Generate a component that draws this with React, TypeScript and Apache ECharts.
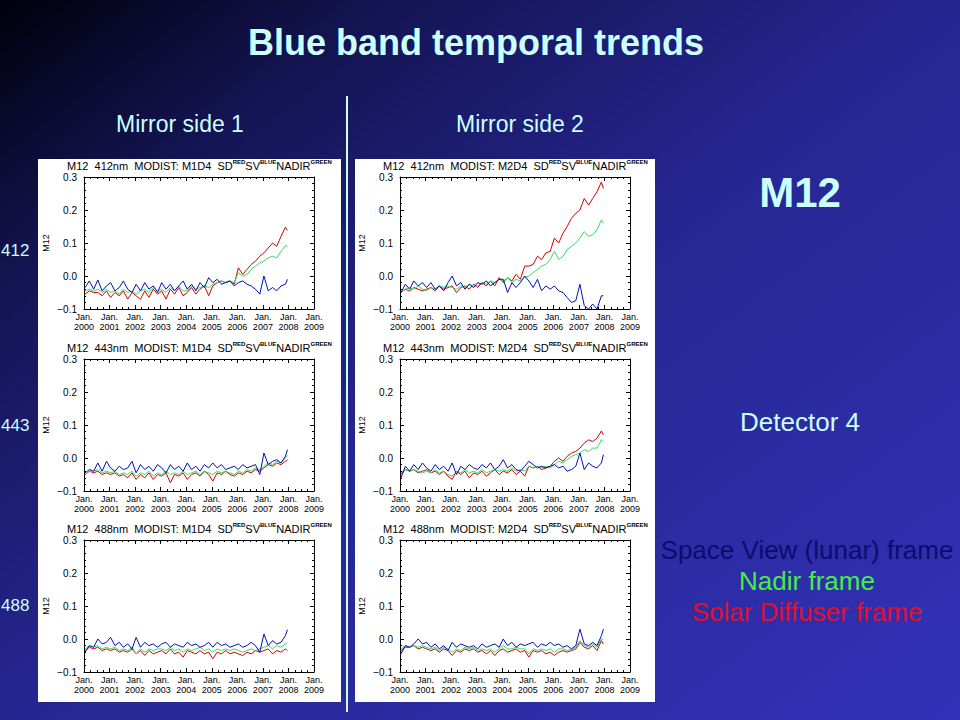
import React, { useEffect, useRef } from "react";
import * as echarts from "echarts";

// Decimal-year sample times (bi-monthly, Jan 2000 – Dec 2007)
const TIMES = [
  2000.04, 2000.21, 2000.38, 2000.54, 2000.71, 2000.88,
  2001.04, 2001.21, 2001.38, 2001.54, 2001.71, 2001.88,
  2002.04, 2002.21, 2002.38, 2002.54, 2002.71, 2002.88,
  2003.04, 2003.21, 2003.38, 2003.54, 2003.71, 2003.88,
  2004.04, 2004.21, 2004.38, 2004.54, 2004.71, 2004.88,
  2005.04, 2005.21, 2005.38, 2005.54, 2005.71, 2005.88,
  2006.04, 2006.21, 2006.38, 2006.54, 2006.71, 2006.88,
  2007.04, 2007.21, 2007.38, 2007.54, 2007.71, 2007.88,
  2007.96,
];

const X_MIN = 2000;
const X_MAX = 2009;
const Y_MIN = -0.1;
const Y_MAX = 0.3;

// Mirror side 1, 412 nm
const M1_412_SV = [-0.035,-0.015,-0.04,-0.012,-0.045,-0.03, -0.02,-0.045,-0.035,-0.015,-0.04,-0.05, -0.025,-0.045,-0.02,-0.04,-0.03,-0.05, -0.02,-0.04,-0.025,-0.045,-0.03,-0.015, -0.04,-0.025,-0.045,-0.02,-0.035,-0.005, -0.02,-0.01,-0.025,-0.02,-0.015,-0.03, -0.02,-0.015,-0.025,-0.03,-0.04,-0.055, 0.0,-0.045,-0.035,-0.045,-0.03,-0.025, -0.01];
const M1_412_SD = [-0.055,-0.045,-0.05,-0.05,-0.06,-0.045, -0.065,-0.05,-0.06,-0.045,-0.07,-0.05, -0.06,-0.07,-0.045,-0.065,-0.04,-0.055, -0.045,-0.07,-0.04,-0.055,-0.035,-0.06, -0.05,-0.035,-0.055,-0.04,-0.03,-0.06, -0.03,-0.02,-0.015,-0.02,-0.015,-0.025, 0.025,0.005,0.02,0.035,0.045,0.06, 0.07,0.085,0.1,0.09,0.12,0.148, 0.138];
const M1_412_NADIR = [-0.045,-0.04,-0.045,-0.04,-0.05,-0.04, -0.05,-0.045,-0.055,-0.04,-0.05,-0.045, -0.055,-0.045,-0.04,-0.05,-0.035,-0.045, -0.04,-0.05,-0.035,-0.045,-0.03,-0.045, -0.045,-0.03,-0.04,-0.035,-0.03,-0.035, -0.025,-0.02,-0.015,-0.02,-0.015,-0.02, 0.01,0.0,0.005,0.02,0.03,0.04, 0.045,0.055,0.06,0.055,0.075,0.092, 0.09];

// Mirror side 2, 412 nm
const M2_412_SV = [-0.05,-0.025,-0.04,-0.015,-0.03,-0.02, -0.035,-0.02,-0.04,-0.03,-0.045,-0.02, 0.0,-0.03,-0.02,-0.04,-0.025,-0.035, -0.02,-0.025,-0.015,-0.03,-0.02,-0.01, -0.01,-0.05,-0.02,-0.035,-0.02,0.0, -0.015,-0.035,-0.01,-0.045,-0.03,-0.04, -0.03,-0.045,-0.05,-0.065,-0.08,-0.075, -0.025,-0.09,-0.1,-0.085,-0.1,-0.06, -0.06];
const M2_412_SD = [-0.05,-0.04,-0.045,-0.035,-0.04,-0.045, -0.04,-0.035,-0.045,-0.03,-0.04,-0.035, -0.03,-0.05,-0.035,-0.03,-0.04,-0.025, -0.035,-0.02,-0.03,-0.015,-0.03,-0.005, -0.02,-0.005,-0.015,0.005,-0.01,0.03, 0.03,0.035,0.06,0.05,0.07,0.075, 0.115,0.1,0.13,0.15,0.175,0.19, 0.2,0.235,0.215,0.235,0.255,0.285, 0.265];
const M2_412_NADIR = [-0.05,-0.04,-0.035,-0.04,-0.03,-0.04, -0.045,-0.035,-0.04,-0.03,-0.035,-0.03, -0.035,-0.04,-0.03,-0.035,-0.025,-0.03, -0.03,-0.02,-0.025,-0.015,-0.02,-0.01, -0.015,-0.005,-0.02,-0.01,-0.015,-0.005, 0.0,0.01,0.02,0.03,0.035,0.05, 0.075,0.05,0.06,0.08,0.09,0.1, 0.115,0.135,0.12,0.125,0.14,0.17, 0.16];

// Mirror side 1, 443 nm
const M1_443_SV = [-0.045,-0.035,-0.04,-0.015,-0.04,-0.01, -0.03,-0.04,-0.025,-0.035,-0.03,-0.01, -0.045,-0.02,-0.035,-0.025,-0.04,-0.02, -0.03,-0.045,-0.02,-0.035,-0.025,-0.04, -0.015,-0.035,-0.025,-0.04,-0.02,-0.03, -0.015,-0.03,-0.02,-0.035,-0.03,-0.025, -0.035,-0.02,-0.03,-0.025,-0.02,-0.05, 0.015,-0.02,-0.01,-0.005,-0.015,0.005, 0.025];
const M1_443_SD = [-0.05,-0.04,-0.045,-0.04,-0.05,-0.045, -0.05,-0.045,-0.055,-0.05,-0.06,-0.045, -0.065,-0.05,-0.06,-0.045,-0.065,-0.05, -0.055,-0.045,-0.075,-0.05,-0.055,-0.045, -0.065,-0.05,-0.045,-0.055,-0.04,-0.05, -0.07,-0.045,-0.05,-0.04,-0.05,-0.055, -0.045,-0.05,-0.04,-0.045,-0.035,-0.04, -0.03,-0.02,-0.025,-0.015,-0.02,-0.01, -0.005];
const M1_443_NADIR = [-0.05,-0.04,-0.04,-0.035,-0.045,-0.04, -0.045,-0.04,-0.05,-0.045,-0.05,-0.04, -0.055,-0.045,-0.05,-0.04,-0.055,-0.045, -0.05,-0.04,-0.05,-0.045,-0.05,-0.04, -0.05,-0.045,-0.04,-0.05,-0.04,-0.045, -0.05,-0.04,-0.045,-0.04,-0.045,-0.05, -0.04,-0.045,-0.035,-0.04,-0.03,-0.035, -0.025,-0.015,-0.02,-0.01,-0.015,0.0, 0.008];

// Mirror side 2, 443 nm
const M2_443_SV = [-0.06,-0.025,-0.04,-0.02,-0.035,-0.015, -0.03,-0.04,-0.02,-0.035,-0.025,-0.04, -0.015,-0.05,-0.025,-0.035,-0.02,-0.03, -0.035,-0.02,-0.03,-0.015,-0.035,-0.025, -0.005,-0.03,-0.02,-0.035,-0.04,-0.025, -0.01,-0.02,-0.03,-0.025,-0.03,-0.025, -0.02,-0.03,-0.025,-0.04,-0.035,-0.025, 0.015,-0.035,-0.015,-0.025,-0.03,-0.015, 0.01];
const M2_443_SD = [-0.05,-0.035,-0.04,-0.035,-0.045,-0.04, -0.035,-0.045,-0.04,-0.05,-0.04,-0.055, -0.065,-0.04,-0.05,-0.04,-0.06,-0.045, -0.05,-0.04,-0.055,-0.045,-0.035,-0.05, -0.04,-0.045,-0.035,-0.05,-0.04,-0.055, -0.025,-0.03,-0.025,-0.035,-0.03,-0.025, -0.01,0.0,-0.01,0.005,0.015,0.02, 0.03,0.045,0.055,0.05,0.06,0.082, 0.07];
const M2_443_NADIR = [-0.045,-0.035,-0.04,-0.035,-0.04,-0.045, -0.04,-0.045,-0.035,-0.045,-0.04,-0.05, -0.055,-0.04,-0.045,-0.035,-0.045,-0.04, -0.045,-0.035,-0.045,-0.04,-0.035,-0.04, -0.035,-0.04,-0.03,-0.04,-0.035,-0.04, -0.025,-0.03,-0.025,-0.03,-0.025,-0.03, -0.02,-0.01,-0.015,-0.005,0.005,0.01, 0.015,0.025,0.02,0.03,0.03,0.055, 0.05];

// Mirror side 1, 488 nm
const M1_488_SV = [-0.04,-0.02,-0.025,0.0,-0.015,-0.01, 0.005,-0.02,-0.01,-0.025,-0.015,-0.03, 0.005,-0.025,-0.01,-0.02,-0.015,-0.025, -0.015,-0.01,-0.025,-0.015,-0.02,-0.025, -0.01,-0.02,-0.015,-0.025,-0.02,-0.01, -0.025,-0.01,-0.02,-0.015,-0.025,-0.02, -0.015,-0.025,-0.02,-0.01,-0.02,-0.04, 0.015,-0.02,-0.005,-0.015,-0.01,0.01, 0.028];
const M1_488_SD = [-0.035,-0.025,-0.03,-0.025,-0.035,-0.03, -0.035,-0.03,-0.04,-0.035,-0.04,-0.03, -0.045,-0.035,-0.05,-0.035,-0.045,-0.04, -0.035,-0.045,-0.03,-0.045,-0.04,-0.055, -0.035,-0.04,-0.045,-0.035,-0.045,-0.04, -0.06,-0.04,-0.045,-0.035,-0.045,-0.04, -0.045,-0.05,-0.04,-0.045,-0.035,-0.04, -0.035,-0.03,-0.045,-0.035,-0.04,-0.03, -0.035];
const M1_488_NADIR = [-0.03,-0.02,-0.025,-0.02,-0.03,-0.025, -0.03,-0.025,-0.035,-0.03,-0.035,-0.025, -0.045,-0.03,-0.04,-0.03,-0.035,-0.03, -0.03,-0.035,-0.025,-0.035,-0.03,-0.04, -0.03,-0.035,-0.03,-0.025,-0.035,-0.03, -0.04,-0.03,-0.035,-0.03,-0.035,-0.03, -0.035,-0.04,-0.035,-0.03,-0.035,-0.03, -0.025,-0.02,-0.03,-0.02,-0.025,-0.015, -0.012];

// Mirror side 2, 488 nm
const M2_488_SV = [-0.045,-0.02,-0.025,-0.015,0.0,-0.015, -0.01,-0.025,-0.015,-0.03,-0.02,-0.035, -0.01,-0.025,-0.015,-0.02,-0.025,-0.02, -0.03,-0.015,-0.025,-0.02,-0.015,-0.025, 0.0,-0.02,-0.01,-0.025,-0.015,-0.02, -0.015,-0.01,-0.025,-0.015,-0.02,-0.01, -0.02,-0.015,-0.025,-0.02,-0.03,-0.02, 0.03,-0.015,-0.02,-0.01,-0.02,0.01, 0.03];
const M2_488_SD = [-0.035,-0.025,-0.025,-0.02,-0.03,-0.025, -0.03,-0.035,-0.03,-0.04,-0.03,-0.035, -0.05,-0.035,-0.04,-0.03,-0.035,-0.03, -0.04,-0.035,-0.045,-0.035,-0.05,-0.035, -0.03,-0.04,-0.035,-0.03,-0.04,-0.035, -0.055,-0.035,-0.04,-0.035,-0.045,-0.04, -0.05,-0.04,-0.035,-0.04,-0.035,-0.03, -0.01,-0.025,-0.03,-0.02,-0.035,-0.005, -0.015];
const M2_488_NADIR = [-0.03,-0.02,-0.025,-0.02,-0.025,-0.02, -0.025,-0.03,-0.025,-0.035,-0.025,-0.03, -0.04,-0.03,-0.035,-0.025,-0.03,-0.025, -0.035,-0.03,-0.035,-0.03,-0.04,-0.03, -0.02,-0.03,-0.03,-0.025,-0.03,-0.03, -0.045,-0.03,-0.035,-0.03,-0.035,-0.03, -0.04,-0.03,-0.03,-0.035,-0.03,-0.025, -0.005,-0.02,-0.025,-0.015,-0.025,0.0, 0.0];

const PANELS = [
  { band: "412nm", det: "M1D4", sd: M1_412_SD, sv: M1_412_SV, nadir: M1_412_NADIR, col: 0, row: 0 },
  { band: "412nm", det: "M2D4", sd: M2_412_SD, sv: M2_412_SV, nadir: M2_412_NADIR, col: 1, row: 0 },
  { band: "443nm", det: "M1D4", sd: M1_443_SD, sv: M1_443_SV, nadir: M1_443_NADIR, col: 0, row: 1 },
  { band: "443nm", det: "M2D4", sd: M2_443_SD, sv: M2_443_SV, nadir: M2_443_NADIR, col: 1, row: 1 },
  { band: "488nm", det: "M1D4", sd: M1_488_SD, sv: M1_488_SV, nadir: M1_488_NADIR, col: 0, row: 2 },
  { band: "488nm", det: "M2D4", sd: M2_488_SD, sv: M2_488_SV, nadir: M2_488_NADIR, col: 1, row: 2 },
];

const BAND_LABELS = ["412", "443", "488"];

const COL_LEFT = [84, 400];
const ROW_TOP = [177, 359, 540];
const PLOT_W = 230;
const PLOT_H = 132;

const RED = "#d40000";
const BLUE = "#0010b0";
const GREEN = "#30e060";
const CYAN = "#ccffff";
const FONT = "Liberation Sans";

function pairs(vals: number[]) {
  return vals.map((v, i) => [TIMES[i], v]);
}

export default function App() {
  const ref = useRef<HTMLDivElement>(null);
  useEffect(() => {
    if (!ref.current) return;
    const chart = echarts.init(ref.current, null, { renderer: "svg" });

    const grid: any[] = [];
    const xAxis: any[] = [];
    const yAxis: any[] = [];
    const series: any[] = [];
    const title: any[] = [];

    const axisLine = { show: true, onZero: false, lineStyle: { color: "#000", width: 1 } };
    const tick = { show: true, inside: true, length: 4, lineStyle: { color: "#000" } };
    const minor = { show: true, splitNumber: 5, length: 2, lineStyle: { color: "#000" } };

    PANELS.forEach((p, k) => {
      const left = COL_LEFT[p.col];
      const top = ROW_TOP[p.row];
      grid.push({ left, top, width: PLOT_W, height: PLOT_H, containLabel: false, show: false });
      xAxis.push({
        type: "value", gridIndex: k, position: "bottom", min: X_MIN, max: X_MAX, interval: 1,
        axisLine, axisTick: tick, minorTick: { ...minor, splitNumber: 4 }, splitLine: { show: false },
        axisLabel: {
          show: true, showMinLabel: true, showMaxLabel: true, margin: 3,
          color: "#000", fontFamily: FONT, fontSize: 9, lineHeight: 10,
          formatter: (v: number) => "Jan.\n" + Math.round(v),
        },
      });
      xAxis.push({
        type: "value", gridIndex: k, position: "top", min: X_MIN, max: X_MAX, interval: 1,
        axisLine, axisTick: tick, minorTick: { ...minor, splitNumber: 4 }, splitLine: { show: false },
        axisLabel: { show: false },
      });
      yAxis.push({
        type: "value", gridIndex: k, position: "left", min: Y_MIN, max: Y_MAX, interval: 0.1,
        axisLine, axisTick: tick, minorTick: minor, splitLine: { show: false },
        name: "M12", nameLocation: "middle", nameGap: 34, nameRotate: 90,
        nameTextStyle: { color: "#000", fontFamily: FONT, fontSize: 9 },
        axisLabel: {
          show: true, showMinLabel: true, showMaxLabel: true, margin: 7,
          color: "#000", fontFamily: FONT, fontSize: 10,
          formatter: (v: number) => (v < 0 ? "\u2212" : "") + Math.abs(v).toFixed(1),
        },
      });
      yAxis.push({
        type: "value", gridIndex: k, position: "right", min: Y_MIN, max: Y_MAX, interval: 0.1,
        axisLine, axisTick: tick, minorTick: minor, splitLine: { show: false },
        axisLabel: { show: false },
      });
      const xi = k * 2;
      const yi = k * 2;
      const mk = (name: string, data: number[], color: string) => ({
        type: "line", name, xAxisIndex: xi, yAxisIndex: yi, data: pairs(data),
        symbol: "none", lineStyle: { color, width: 1 }, itemStyle: { color },
      });
      series.push(mk("SD", p.sd, RED));
      series.push(mk("NADIR", p.nadir, GREEN));
      series.push(mk("SV", p.sv, BLUE));

      title.push({
        left: left - 17, top: top - 18, padding: 0,
        text: `{n|M12  ${p.band}  MODIST: ${p.det}  SD}{s|RED}{n|SV}{s|BLUE}{n|NADIR}{s|GREEN}`,
        textStyle: {
          fontWeight: "normal",
          rich: {
            n: { fontSize: 11, fontFamily: FONT, fontWeight: "normal", color: "#000", lineHeight: 13 },
            s: { fontSize: 6, fontFamily: FONT, fontWeight: "bold", color: "#000", lineHeight: 7, verticalAlign: "top" },
          },
        },
      });
    });

    const txt = (text: string, x: number, y: number, size: number, color: string, bold = false, align = "center") => ({
      type: "text", x, y, z: 10,
      style: { text, fill: color, fontSize: size, fontWeight: bold ? "bold" : "normal", fontFamily: FONT, align, verticalAlign: "middle" },
    });

    const graphic: any[] = [
      {
        type: "rect", z: -20, silent: true,
        shape: { x: 0, y: 0, width: 960, height: 720 },
        style: {
          fill: new echarts.graphic.LinearGradient(0, 0, 1, 1, [
            { offset: 0, color: "#00000c" },
            { offset: 0.2, color: "#141452" },
            { offset: 0.5, color: "#262692" },
            { offset: 1, color: "#3232b8" },
          ]),
        },
      },
      { type: "rect", z: -10, silent: true, shape: { x: 38, y: 159, width: 303, height: 543 }, style: { fill: "#ffffff" } },
      { type: "rect", z: -10, silent: true, shape: { x: 355, y: 159, width: 300, height: 543 }, style: { fill: "#ffffff" } },
      { type: "line", z: 5, silent: true, shape: { x1: 347, y1: 96, x2: 347, y2: 712 }, style: { stroke: CYAN, lineWidth: 2 } },
      txt("Blue band temporal trends", 476, 42, 36, CYAN, true),
      txt("Mirror side 1", 180, 124, 23, CYAN),
      txt("Mirror side 2", 520, 124, 23, CYAN),
      txt(BAND_LABELS[0], 1, 250, 17, CYAN, false, "left"),
      txt(BAND_LABELS[1], 1, 425, 17, CYAN, false, "left"),
      txt(BAND_LABELS[2], 1, 605, 17, CYAN, false, "left"),
      txt("M12", 800, 192, 42, CYAN, true),
      txt("Detector 4", 800, 422, 26, CYAN),
      txt("Space View (lunar) frame", 807, 550, 26, "#0c0c70"),
      txt("Nadir frame", 807, 581, 26, "#44ee44"),
      txt("Solar Diffuser frame", 807, 612, 26, "#e0102a"),
    ];

    chart.setOption({
      animation: false,
      title,
      grid,
      xAxis,
      yAxis,
      series,
      graphic,
    });
    return () => chart.dispose();
  }, []);

  return <div ref={ref} style={{ position: "absolute", left: 0, top: 0, width: 960, height: 720 }} />;
}
